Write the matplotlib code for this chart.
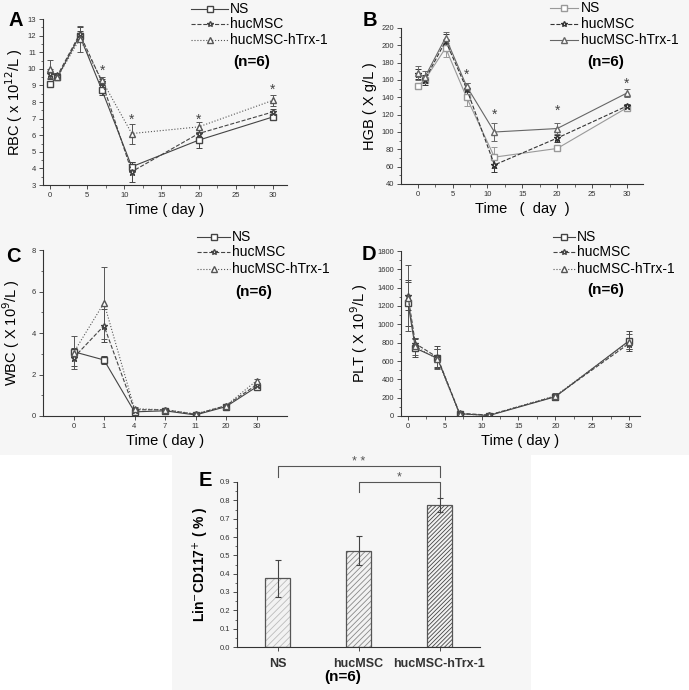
import matplotlib
matplotlib.use("Agg")
import matplotlib.pyplot as plt
from matplotlib.lines import Line2D
from matplotlib.patches import Rectangle
from matplotlib.ticker import MultipleLocator, FormatStrFormatter

plt.rcParams["font.family"] = ["Liberation Sans", "DejaVu Sans"]
plt.rcParams["hatch.linewidth"] = 0.6

BG = "#f6f6f6"

days = [0, 1, 4, 7, 11, 20, 30]
groups = ["NS", "hucMSC", "hucMSC-hTrx-1"]

rbc_ns = [9.1, 9.5, 12.0, 8.7, 4.1, 5.7, 7.1]
rbc_ns_err = [0.1, 0.15, 0.25, 0.3, 0.3, 0.5, 0.1]
rbc_huc = [9.7, 9.6, 12.1, 9.2, 3.8, 6.1, 7.4]
rbc_huc_err = [0.3, 0.15, 0.4, 0.2, 0.6, 0.3, 0.15]
rbc_trx = [10.0, 9.5, 11.8, 9.3, 6.1, 6.5, 8.1]
rbc_trx_err = [0.55, 0.15, 0.8, 0.2, 0.6, 0.3, 0.35]
rbc_sig_days = [7, 11, 20, 30]
rbc_sig_y = [9.9, 6.95, 6.95, 8.75]

hgb_ns = [153, 160, 197, 140, 71, 81, 128]
hgb_ns_err = [3, 4, 10, 10, 12, 3, 2]
hgb_huc = [167, 160, 205, 150, 62, 93, 130]
hgb_huc_err = [6, 6, 8, 6, 8, 4, 2]
hgb_trx = [168, 163, 209, 153, 100, 104, 145]
hgb_trx_err = [8, 7, 6, 4, 10, 6, 5]
hgb_sig_days = [7, 11, 20, 30]
hgb_sig_y = [166, 120, 124, 156]

wbc_ns = [3.1, 2.7, 0.2, 0.25, 0.05, 0.45, 1.4]
wbc_ns_err = [0.2, 0.2, 0.05, 0.05, 0.02, 0.05, 0.1]
wbc_huc = [2.8, 4.35, 0.3, 0.3, 0.08, 0.5, 1.5]
wbc_huc_err = [0.4, 0.8, 0.1, 0.05, 0.03, 0.05, 0.1]
wbc_trx = [3.05, 5.45, 0.35, 0.3, 0.1, 0.5, 1.7]
wbc_trx_err = [0.8, 1.75, 0.1, 0.05, 0.03, 0.05, 0.1]

plt_ns = [1230, 740, 630, 25, 5, 210, 820]
plt_ns_err = [250, 100, 100, 10, 5, 30, 110]
plt_huc = [1310, 790, 640, 30, 10, 215, 790]
plt_huc_err = [150, 60, 120, 10, 10, 30, 60]
plt_trx = [1290, 760, 620, 20, 10, 220, 810]
plt_trx_err = [360, 90, 110, 10, 10, 30, 80]

lin_mean = [0.375, 0.525, 0.775]
lin_err = [0.1, 0.08, 0.04]

fig = plt.figure(figsize=(6.89, 6.90), dpi=100, facecolor=BG)

# white corners next to panel E
for x0, x1 in [(0, 172), (531, 689)]:
    fig.patches.append(Rectangle((x0 / 689, 0), (x1 - x0) / 689, 235 / 690,
                                 transform=fig.transFigure, facecolor="white",
                                 edgecolor="none", zorder=0))


def fx(px):
    return px / 689


def fy(px):
    return 1 - px / 690


def px_axes(left, top, right, bottom):
    ax = fig.add_axes([fx(left), fy(bottom), (right - left) / 689, (bottom - top) / 690])
    ax.set_facecolor("none")
    for side in ("top", "right"):
        ax.spines[side].set_visible(False)
    for side in ("left", "bottom"):
        ax.spines[side].set_linewidth(0.8)
        ax.spines[side].set_color("#333333")
    ax.tick_params(direction="out", length=3, width=0.6, labelsize=5.5, colors="#333333", pad=2)
    ax.tick_params(which="minor", direction="out", length=1.8, width=0.5, colors="#333333")
    return ax


def draw_series(ax, x, series, styles):
    for (y, err), (ls, mk, col) in zip(series, styles):
        ax.errorbar(x, y, yerr=err, linestyle=ls, marker=mk, color=col,
                    markerfacecolor="white", markeredgecolor=col, markersize=4.5,
                    linewidth=0.8, elinewidth=0.7, capsize=2, capthick=0.7)


def add_legend(styles, hx0, hx1, tx, rows_y, n_xy):
    for (ls, mk, col), label, y in zip(styles, groups, rows_y):
        fig.add_artist(Line2D([fx(hx0), fx((hx0 + hx1) / 2), fx(hx1)], [fy(y)] * 3,
                              transform=fig.transFigure, linestyle=ls, color=col, linewidth=0.8,
                              marker=mk, markevery=[1], markersize=4,
                              markerfacecolor="white", markeredgecolor=col))
        fig.text(fx(tx), fy(y), label, fontsize=10, va="center", ha="left")
    fig.text(fx(n_xy[0]), fy(n_xy[1]), "(n=6)", fontsize=11, fontweight="bold",
             va="center", ha="left")


def set_labels(ax, xlabel, ylabel, ypad):
    ax.set_xlabel(xlabel, fontsize=10.5, labelpad=3)
    ax.set_ylabel(ylabel, fontsize=10.5, labelpad=ypad)


def panel_letter(x, y, s):
    fig.text(fx(x), fy(y), s, fontsize=14.5, fontweight="bold", ha="center", va="center")


dark_styles = [("-", "s", "#444444"), ("--", "*", "#444444"), (":", "^", "#555555")]
b_styles = [("-", "s", "#999999"), ("--", "*", "#333333"), ("-", "^", "#666666")]

# A: RBC
ax = px_axes(43, 19, 287, 185)
draw_series(ax, days, [(rbc_ns, rbc_ns_err), (rbc_huc, rbc_huc_err), (rbc_trx, rbc_trx_err)],
            dark_styles)
for d, s in zip(rbc_sig_days, rbc_sig_y):
    ax.text(d, s, "*", ha="center", va="center", fontsize=10, color="#444444")
ax.set_xlim(-0.95, 31.9)
ax.set_ylim(3, 13)
ax.xaxis.set_major_locator(MultipleLocator(5))
ax.xaxis.set_minor_locator(MultipleLocator(2.5))
ax.yaxis.set_major_locator(MultipleLocator(1))
ax.yaxis.set_minor_locator(MultipleLocator(0.5))
set_labels(ax, "Time ( day )", "RBC ( x 10$^{12}$/L )", 2)
add_legend(dark_styles, 191, 228, 230, [9, 24, 40], (233, 62))
panel_letter(16, 20, "A")

# B: HGB
ax = px_axes(401, 28, 643, 184)
draw_series(ax, days, [(hgb_ns, hgb_ns_err), (hgb_huc, hgb_huc_err), (hgb_trx, hgb_trx_err)],
            b_styles)
for d, s in zip(hgb_sig_days, hgb_sig_y):
    ax.text(d, s, "*", ha="center", va="center", fontsize=10, color="#444444")
ax.set_xlim(-2.4, 32.3)
ax.set_ylim(40, 220)
ax.xaxis.set_major_locator(MultipleLocator(5))
ax.xaxis.set_minor_locator(MultipleLocator(2.5))
ax.yaxis.set_major_locator(MultipleLocator(20))
ax.yaxis.set_minor_locator(MultipleLocator(10))
set_labels(ax, "Time   (  day  )", "HGB ( X g/L )", 3)
add_legend(b_styles, 550, 578, 581, [8, 24, 40], (587, 62))
panel_letter(370, 20, "B")

# C: WBC (categorical days)
ax = px_axes(43, 250, 287, 416)
pos = list(range(len(days)))
draw_series(ax, pos, [(wbc_ns, wbc_ns_err), (wbc_huc, wbc_huc_err), (wbc_trx, wbc_trx_err)],
            dark_styles)
ax.set_xlim(-1, 7)
ax.set_ylim(0, 8)
ax.set_xticks(pos)
ax.set_xticklabels([str(d) for d in days])
ax.yaxis.set_major_locator(MultipleLocator(2))
ax.yaxis.set_minor_locator(MultipleLocator(1))
set_labels(ax, "Time ( day )", "WBC ( X 10$^{9}$/L )", 7)
add_legend(dark_styles, 197, 230, 232, [237, 252, 269], (235, 292))
panel_letter(13, 256, "C")

# D: PLT
ax = px_axes(401, 251, 640, 416)
draw_series(ax, days, [(plt_ns, plt_ns_err), (plt_huc, plt_huc_err), (plt_trx, plt_trx_err)],
            dark_styles)
ax.set_xlim(-0.95, 31.5)
ax.set_ylim(0, 1800)
ax.xaxis.set_major_locator(MultipleLocator(5))
ax.xaxis.set_minor_locator(MultipleLocator(2.5))
ax.yaxis.set_major_locator(MultipleLocator(200))
ax.yaxis.set_minor_locator(MultipleLocator(100))
set_labels(ax, "Time ( day )", "PLT ( X 10$^{9}$/L )", 5)
add_legend(dark_styles, 553, 575, 577, [237, 252, 269], (587, 290))
panel_letter(369, 255, "D")

# E: Lin-CD117+ bars
ax = px_axes(237, 482, 480, 647)
xpos = list(range(len(groups)))
hatch_cols = ["#bbbbbb", "#888888", "#444444"]
hatches = ["/////", "//////", "////////"]
for x, m, e, hc, h in zip(xpos, lin_mean, lin_err, hatch_cols, hatches):
    ax.bar(x, m, width=0.3, facecolor="#f2f2f2", edgecolor=hc, hatch=h, linewidth=0)
    ax.bar(x, m, width=0.3, facecolor="none", edgecolor="#555555", linewidth=0.9)
    ax.errorbar(x, m, yerr=e, color="#444444", elinewidth=0.8, capsize=2.5, capthick=0.8)
ax.set_xlim(-0.5, 2.5)
ax.set_ylim(0, 0.9)
ax.set_xticks(xpos)
ax.set_xticklabels(groups, fontsize=9, fontweight="bold")
ax.tick_params(axis="x", pad=5)
ax.yaxis.set_major_locator(MultipleLocator(0.1))
ax.yaxis.set_minor_locator(MultipleLocator(0.05))
ax.yaxis.set_major_formatter(FormatStrFormatter("%.1f"))
ax.set_ylabel("Lin$^{-}$CD117$^{+}$ ( % )", fontsize=10, fontweight="bold", labelpad=6)
fig.text(fx(343), fy(677), "(n=6)", fontsize=11, fontweight="bold", ha="center", va="center")
# significance brackets
ax.plot([0, 0, 2, 2], [0.93, 0.985, 0.985, 0.925], color="#555555", linewidth=0.8, clip_on=False)
ax.text(1, 1.01, "* *", ha="center", va="center", fontsize=9, color="#555555")
ax.plot([1, 1, 2, 2], [0.845, 0.90, 0.90, 0.82], color="#555555", linewidth=0.8, clip_on=False)
ax.text(1.5, 0.925, "*", ha="center", va="center", fontsize=9, color="#555555")
panel_letter(205, 480, "E")

fig.savefig("out.png", dpi=100, facecolor=BG)
